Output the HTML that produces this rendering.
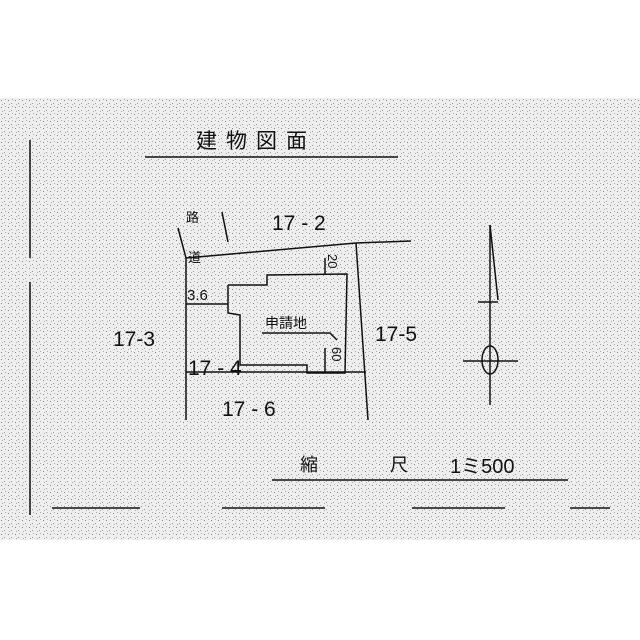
<!DOCTYPE html>
<html><head><meta charset="utf-8"><style>
html,body{margin:0;padding:0;background:#fff;}
svg{display:block;}
text{font-family:"Liberation Sans","Noto Sans CJK JP",sans-serif;fill:#111;}
</style></head><body>
<svg width="640" height="640" viewBox="0 0 640 640" xmlns="http://www.w3.org/2000/svg">
<defs>
<pattern id="n" width="7" height="7" patternUnits="userSpaceOnUse">
<rect width="7" height="7" fill="#eeeeee"/>
<rect x="1" y="2" width="1" height="1" fill="#888"/>
<rect x="4" y="5" width="1" height="1" fill="#999"/>
<rect x="5" y="1" width="1" height="1" fill="#aaa"/>
<rect x="2" y="6" width="1" height="1" fill="#aaa"/>
</pattern>
</defs>
<rect x="0" y="98" width="640" height="442" fill="url(#n)"/>
<g stroke="#111" fill="none" stroke-width="1.5">
<line x1="30" y1="140" x2="30" y2="258"/>
<line x1="30" y1="282" x2="30" y2="515"/>
<line x1="145" y1="157" x2="398" y2="157"/>
<line x1="52" y1="508" x2="140" y2="508"/>
<line x1="222" y1="508" x2="325" y2="508"/>
<line x1="412" y1="508" x2="505" y2="508"/>
<line x1="570" y1="508" x2="610" y2="508"/>
<line x1="272" y1="480" x2="568" y2="480"/>
<polyline points="178,228 186,258 186,420"/>
<line x1="222" y1="212" x2="228" y2="242"/>
<polyline points="186,258 356,243 411,241"/>
<line x1="356" y1="243" x2="368" y2="420"/>
<line x1="186" y1="372" x2="366" y2="372"/>
<line x1="186" y1="304" x2="228" y2="304"/>
<polyline points="228,285 267,285 267,275 347,274 345,373 307,373 307,365 240,365 240,315 228,313 228,285"/>
<line x1="325" y1="258" x2="325" y2="274"/>
<line x1="325" y1="348" x2="325" y2="373"/>
<polyline points="262,333 330,333 337,340"/>
<line x1="490" y1="225" x2="490" y2="405"/>
<line x1="490" y1="225" x2="498" y2="300"/>
<line x1="478" y1="302" x2="498" y2="302"/>
<line x1="463" y1="361" x2="518" y2="361"/>
<ellipse cx="490" cy="360" rx="8" ry="14"/>
</g>
<text x="196" y="148" font-size="21" letter-spacing="9">建物図面</text>
<text x="272" y="230" font-size="21">17 - 2</text>
<text x="113" y="346" font-size="21">17-3</text>
<text x="188" y="375" font-size="21">17 - 4</text>
<text x="375" y="341" font-size="21">17-5</text>
<text x="222" y="416" font-size="21">17 - 6</text>
<text x="265" y="328" font-size="14">申請地</text>
<text x="187" y="300" font-size="15">3.6</text>
<text x="186" y="222" font-size="13">路</text>
<text x="188" y="262" font-size="13">道</text>
<text x="0" y="0" font-size="13" transform="translate(328,254) rotate(90)">20</text>
<text x="0" y="0" font-size="13" transform="translate(332,347) rotate(90)">60</text>
<text x="300" y="471" font-size="18">縮</text>
<text x="390" y="471" font-size="18">尺</text>
<text x="450" y="473" font-size="20">1ミ500</text>
</svg>
</body></html>
